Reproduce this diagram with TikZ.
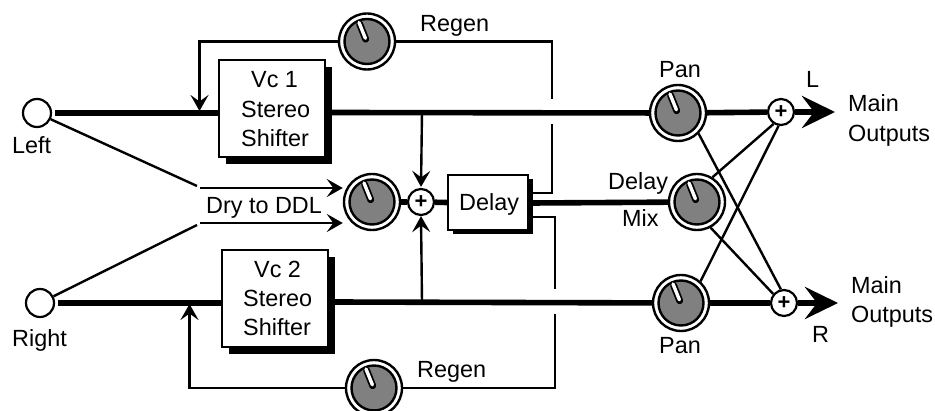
\documentclass[tikz,border=0pt]{standalone}
\usepackage{fontspec}
\setmainfont{Liberation Sans}
\usetikzlibrary{arrows.meta,calc,shadows}
\tikzset{
  lbl/.style={inner sep=0pt,anchor=base west,font=\fontsize{23.4}{28}\selectfont},
  jack/.style={circle,draw,line width=2.2pt,fill=white,minimum size=28pt,inner sep=0pt},
  shifter/.style={draw,line width=2pt,fill=white,minimum width=106pt,minimum height=97pt,inner sep=0pt,
    drop shadow={shadow xshift=7pt,shadow yshift=-7pt,fill=black,opacity=1}},
  delaybox/.style={draw,line width=2pt,fill=white,minimum width=80pt,minimum height=55pt,inner sep=0pt,
    drop shadow={shadow xshift=4.5pt,shadow yshift=-4.5pt,fill=black,opacity=1}},
  knobring/.style={circle,draw,line width=2.4pt,fill=white,minimum size=56pt,inner sep=0pt},
  knobface/.style={circle,draw,line width=2.4pt,fill=black!50,minimum size=45pt,inner sep=0pt},
  summer/.style={circle,draw,line width=2.2pt,fill=white,minimum size=26pt,inner sep=0pt,
    font=\fontsize{22}{22}\bfseries\selectfont},
  thick line/.style={line width=5.6pt},
  thin line/.style={line width=2.4pt},
  feed/.style={thin line,-{Stealth[length=16pt,width=18pt,inset=6.5pt]}},
  outarrow/.style={thick line,-{Stealth[length=33pt,width=32pt,inset=12pt]}},
}
\newcommand{\knobat}[2]{%
  \node[knobring] (#1) at (#2) {};
  \node[knobface] at (#1) {};
  \draw[line width=7pt,line cap=round] ($(#1)+(-1.3,-2.3)$) -- ($(#1)+(-7.4,-17.6)$);
  \draw[white,line width=3.4pt,line cap=round] ($(#1)+(-1.6,-3.2)$) -- ($(#1)+(-8,-19)$);
}
\begin{document}
\begin{tikzpicture}[x=1pt,y=-1pt]
\useasboundingbox (0,0) rectangle (935,411);
% blocks
\node[jack] (inL) at (37,113) {};
\node[jack] (inR) at (40,303) {};
\node[shifter] (vc1) at (271.5,109) {};
\node[shifter] (vc2) at (275,298.5) {};
\node[delaybox] (delay) at (488,202.5) {};
\knobat{regenA}{367,41.5}
\knobat{regenB}{374,388}
\knobat{dry}{372,202}
\knobat{panA}{678,113}
\knobat{panB}{681,303}
\knobat{mix}{697,202}
\node[summer] (sumC) at (421,202) {+};
\node[summer] (sumL) at (781,112) {+};
\node[summer] (sumR) at (784,303) {+};
% free ends
\coordinate (outL) at (835,112);
\coordinate (outR) at (838,303);
\coordinate (fbA) at (199.5,111);
\coordinate (fbB) at (189.5,304);
\coordinate (upA) at (552,99.5);
\coordinate (upB) at (552,124.5);
\coordinate (dnA) at (555,289);
\coordinate (dnB) at (555,314);
\coordinate (delayTop) at (532,193);
\coordinate (delayBot) at (532,217);
\coordinate (dryAe) at (197,186);
\coordinate (dryAs) at (200,188);
\coordinate (dryBe) at (197,225);
\coordinate (dryBs) at (200,223);
\coordinate (tapA) at (422,112);
\coordinate (tapB) at (422,302);
\coordinate (vc1out) at (332,112.5);
\coordinate (vc2out) at (335,302);
\coordinate (delayOut) at (532,203);
% thick signal lines
\draw[thick line,shorten <=3pt] (inL.east) -- (vc1.west |- inL);
\draw[thick line,shorten <=3pt] (inR.east) -- (vc2.west |- inR);
\draw[thick line] (vc1out) -- (panA);
\draw[thick line] (vc2out) -- (panB);
\draw[thick line] (panA) -- (sumL);
\draw[thick line] (panB) -- (sumR);
\draw[outarrow] (sumL) -- (outL);
\draw[outarrow] (sumR) -- (outR);
\draw[thick line] (dry) -- (sumC);
\draw[thick line] (sumC) -- (delay.west);
\draw[thick line] (delayOut) -- (mix);
% thin feedback lines
\draw[thin line] (regenA) -| (upA);
\draw[thin line] (upB) |- (delayTop);
\draw[feed] (regenA) -| (fbA);
\draw[thin line] (regenB) -| (dnB);
\draw[thin line] (dnA) |- (delayBot);
\draw[feed] (regenB) -| (fbB);
% dry feeds
\draw[thin line] (inL) -- (dryAe);
\draw[thin line] (inR) -- (dryBe);
\draw[feed] (dryAs) -- (dry.west |- dryAs);
\draw[feed] (dryBs) -- (dry.west |- dryBs);
\draw[feed,shorten >=1pt] (tapA) -- (sumC.north);
\draw[feed] (tapB) -- (sumC.south);
% output matrix
\draw[thin line] (panA.-45) -- (sumR.103);
\draw[thin line] (panB.48) -- (sumL.260);
\draw[thin line] (mix.58) -- (sumL.238);
\draw[thin line] (mix.-62) -- (sumR.140);
% labels
\node[lbl] (t1) at (12,154) {Left};
\node[lbl] (t2) at (12,347) {Right};
\node[lbl] (t3) at (251,88) {Vc 1};
\node[lbl] (t4) at (241,118) {Stereo};
\node[lbl] (t5) at (241,147) {Shifter};
\node[lbl] (t6) at (254,278) {Vc 2};
\node[lbl] (t7) at (243,307) {Stereo};
\node[lbl] (t8) at (243,336) {Shifter};
\node[lbl] (t9) at (420,32) {Regen};
\node[lbl] (t10) at (417,378) {Regen};
\node[lbl] (t11) at (206,214) {Dry to DDL};
\node[lbl] (t12) at (459,211) {Delay};
\node[lbl] (t13) at (608,190) {Delay};
\node[lbl] (t14) at (622,227) {Mix};
\node[lbl] (t15) at (659,78) {Pan};
\node[lbl] (t16) at (659,354) {Pan};
\node[lbl] (t17) at (806,88) {L};
\node[lbl] (t18) at (812,343) {R};
\node[lbl] (t19) at (848,112) {Main};
\node[lbl] (t20) at (848,142) {Outputs};
\node[lbl] (t21) at (851,294) {Main};
\node[lbl] (t22) at (851,323) {Outputs};
\end{tikzpicture}
\end{document}
